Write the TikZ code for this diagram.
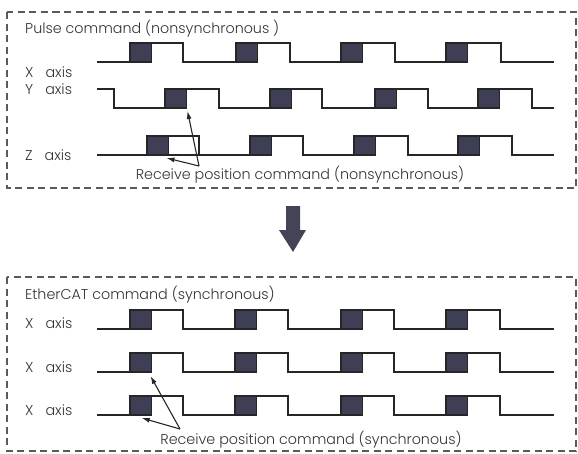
\documentclass[tikz,border=0pt]{standalone}
\usepackage{fontspec}
\IfFontExistsTF{Poppins Light}{\setmainfont{Poppins Light}}{\setmainfont{Poppins}}
\usetikzlibrary{arrows.meta}
\definecolor{boxfill}{HTML}{3E3E55}
\definecolor{framegray}{HTML}{5A5A5A}
\definecolor{txtgray}{HTML}{333333}
\definecolor{bigarrow}{HTML}{444458}
\begin{document}
\begin{tikzpicture}[x=1pt,y=-1pt,
  frame/.style={draw=framegray,line width=1.6pt,dash pattern=on 7pt off 4.5pt},
  wave/.style={draw=black!85,line width=1.2pt,line join=miter},
  pulsebox/.style={draw=black!85,fill=boxfill,line width=1.2pt,anchor=north west,
    minimum width=21.5pt,inner sep=0pt,outer sep=0pt},
  lbl/.style={anchor=west,inner sep=0pt,text=txtgray,font=\fontsize{14.3}{16}\selectfont},
  note/.style={inner sep=0pt,text=txtgray,font=\fontsize{14.3}{16}\selectfont},
  pointer/.style={draw=black!85,line width=1.1pt,-{Latex[length=8pt,width=5pt]}}]
\useasboundingbox (0,0) rectangle (578,453);

% dashed frames
\draw[frame] (7,12) rectangle (576,188);
\draw[frame] (7,277) rectangle (576,451);

% ---------- nonsynchronous pulse commands ----------
\node[lbl] (t1) at (25,29) {Pulse command (nonsynchronous )};
\node[lbl] (lx) at (25,72) {X\hspace{12pt}axis};
\node[lbl] (ly) at (25,89) {Y\hspace{12pt}axis};
\node[lbl] (lz) at (25,155) {Z\hspace{12pt}axis};

% X axis
\draw[wave] (97,62) -- (130,62) -- (130,43) -- (183,43) -- (183,62) -- (236,62) -- (236,43)
  -- (290,43) -- (290,62) -- (341,62) -- (341,43) -- (395,43) -- (395,62) -- (446,62)
  -- (446,43) -- (501,43) -- (501,62) -- (554,62);
\foreach \px [count=\i] in {130,236,341,446}
  \node[pulsebox,minimum height=19pt] (xa\i) at (\px,43) {};

% Y axis
\draw[wave] (97,89) -- (114,89) -- (114,108) -- (165,108) -- (165,89) -- (219,89) -- (219,108)
  -- (270,108) -- (270,89) -- (322,89) -- (322,108) -- (375,108) -- (375,89) -- (428,89)
  -- (428,108) -- (478,108) -- (478,89) -- (532,89) -- (532,108) -- (554,108);
\foreach \px [count=\i] in {165,270,375,478}
  \node[pulsebox,minimum height=19pt] (ya\i) at (\px,89) {};

% Z axis
\draw[wave] (97,155) -- (147,155) -- (147,136) -- (199,136) -- (199,155) -- (250,155) -- (250,136)
  -- (303,136) -- (303,155) -- (354,155) -- (354,136) -- (408,136) -- (408,155) -- (458,155)
  -- (458,136) -- (512,136) -- (512,155) -- (554,155);
\draw[wave] (168,155) -- (199,155);
\foreach \px [count=\i] in {147,250,354,458}
  \node[pulsebox,minimum height=19pt] (za\i) at (\px,136) {};

\coordinate (forkA) at (199,166);
\draw[pointer] (forkA) -- ([shift={(1pt,-3pt)}]ya1.south east);
\draw[pointer] (forkA) -- ([shift={(-2pt,-3pt)}]za1.south east);
\node[note] (recA) at (300,175) {Receive position command (nonsynchronous)};

% ---------- transition arrow ----------
\fill[bigarrow] (286,206) -- (300,206) -- (300,230) -- (306,230) -- (293,252)
  -- (279,230) -- (286,230) -- cycle;

% ---------- synchronous EtherCAT commands ----------
\node[lbl] (t2) at (25,295) {EtherCAT command (synchronous)};
\node[lbl] (l1) at (25,323) {X\hspace{12pt}axis};
\node[lbl] (l2) at (25,367) {X\hspace{12pt}axis};
\node[lbl] (l3) at (25,410) {X\hspace{12pt}axis};

\foreach \hy/\ly/\r in {310/329/a,353/372/b,396/415/c}{
  \draw[wave] (97,\ly) -- (130,\ly) -- (130,\hy) -- (183,\hy) -- (183,\ly) -- (235,\ly) -- (235,\hy)
    -- (288,\hy) -- (288,\ly) -- (341,\ly) -- (341,\hy) -- (394,\hy) -- (394,\ly) -- (446,\ly)
    -- (446,\hy) -- (500,\hy) -- (500,\ly) -- (554,\ly);
  \foreach \px [count=\i] in {130,235,341,446}
    \node[pulsebox,minimum height=19pt] (s\r\i) at (\px,\hy) {};
}

\coordinate (forkB) at (180,429);
\draw[pointer] (forkB) -- ([shift={(-1pt,-4pt)}]sb1.south east);
\draw[pointer] (forkB) -- ([shift={(1pt,-3pt)}]sc1.south);
\node[note] (recB) at (311,440) {Receive position command (synchronous)};
\end{tikzpicture}
\end{document}
